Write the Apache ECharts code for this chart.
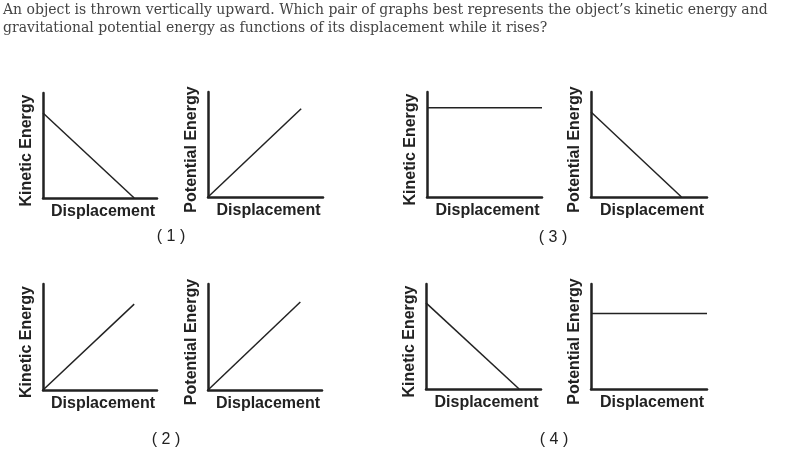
<!DOCTYPE html>
<html>
<head>
<meta charset="utf-8">
<script src="https://cdn.jsdelivr.net/npm/echarts@6/dist/echarts.min.js"></script>
<style>html,body{margin:0;padding:0;background:#fff;}#c{width:789px;height:458px;}</style>
</head>
<body>
<div id="c"></div>
<script>
const questionLines = [
  "An object is thrown vertically upward. Which pair of graphs best represents the object\u2019s kinetic energy and",
  "gravitational potential energy as functions of its displacement while it rises?"
];
const xAxisName = "Displacement";
const yAxisNames = ["Kinetic Energy", "Potential Energy", "Kinetic Energy", "Potential Energy",
                    "Kinetic Energy", "Potential Energy", "Kinetic Energy", "Potential Energy"];
const choiceLabels = ["( 1 )", "( 3 )", "( 2 )", "( 4 )"];
// each graph's line as [displacement, energy] points (axis range 0..10)
const graph1KE = [[0, 8.1], [8.0, 0]];
const graph1PE = [[0, 0], [8.1, 8.4]];
const graph3KE = [[0, 8.5], [10, 8.5]];
const graph3PE = [[0, 8.1], [7.8, 0]];
const graph2KE = [[0, 0], [8.0, 8.1]];
const graph2PE = [[0, 0], [8.1, 8.3]];
const graph4KE = [[0, 8.2], [8.1, 0]];
const graph4PE = [[0, 7.2], [10, 7.2]];
const graphData = [graph1KE, graph1PE, graph3KE, graph3PE, graph2KE, graph2PE, graph4KE, graph4PE];

// layout boxes (left, top, width, height)
const boxes = [
  [43, 93, 114, 105], [208, 92, 115, 105], [427, 92, 115, 105], [591, 92, 116, 105],
  [43, 284, 114, 106], [208, 284, 114, 106], [426, 284, 115, 105], [591, 284, 116, 105]
];
const labelPos = [[171, 237], [553, 238], [166, 440], [554, 440]];

const ink = '#222';
const grid = [], xAxis = [], yAxis = [], series = [];
boxes.forEach((b, i) => {
  grid.push({left: b[0], top: b[1], width: b[2], height: b[3]});
  xAxis.push({
    gridIndex: i, type: 'value', min: 0, max: 10,
    axisLine: {show: true, lineStyle: {color: ink, width: 2.5}},
    axisTick: {show: false}, axisLabel: {show: false}, splitLine: {show: false},
    name: xAxisName, nameLocation: 'middle', nameGap: 6,
    nameTextStyle: {fontFamily: 'Liberation Sans', fontWeight: 'bold', fontSize: 16, color: ink, verticalAlign: 'top', padding: [0, 0, 0, 6]}
  });
  yAxis.push({
    gridIndex: i, type: 'value', min: 0, max: 10,
    axisLine: {show: true, lineStyle: {color: ink, width: 2.5}},
    axisTick: {show: false}, axisLabel: {show: false}, splitLine: {show: false},
    name: yAxisNames[i], nameLocation: 'middle', nameGap: 8,
    nameTextStyle: {fontFamily: 'Liberation Sans', fontWeight: 'bold', fontSize: 16, color: ink, padding: [0, 10, 0, 0]}
  });
  series.push({
    type: 'line', xAxisIndex: i, yAxisIndex: i, data: graphData[i],
    symbol: 'none', silent: true, animation: false,
    lineStyle: {color: ink, width: 1.5}
  });
});

const graphic = [{
  type: 'text', left: 3, top: 1,
  style: {text: questionLines.join('\n'), font: '14px "DejaVu Serif"', fill: '#444', lineHeight: 18}
}];
choiceLabels.forEach((t, i) => {
  graphic.push({
    type: 'text', x: labelPos[i][0], y: labelPos[i][1],
    style: {text: t, font: '16px "Liberation Sans"', fill: ink, align: 'center', verticalAlign: 'middle'}
  });
});

const chart = echarts.init(document.getElementById('c'), null, {renderer: 'canvas'});
chart.setOption({animation: false, grid, xAxis, yAxis, series, graphic});
</script>
</body>
</html>
